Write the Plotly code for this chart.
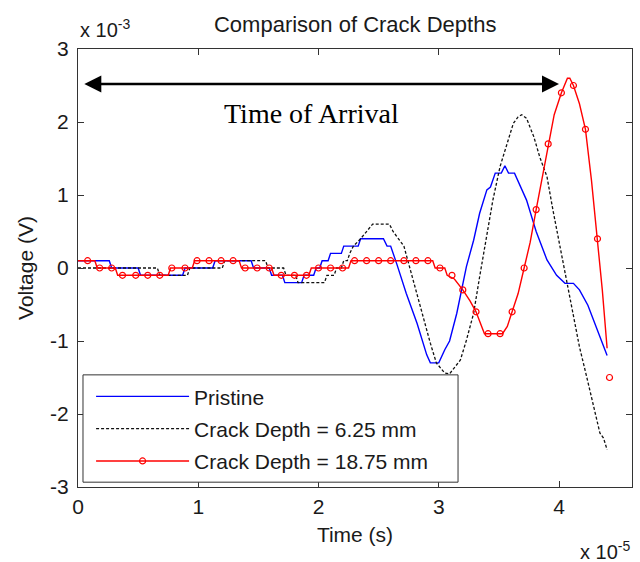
import plotly.graph_objects as go

# Time values in units of 1e-5 s, voltage values in units of 1e-3 V
pristine_t = [0, 0.26, 0.28, 0.50, 0.52, 0.87, 0.89, 1.12, 1.14, 1.44,
              1.46, 1.59, 1.61, 1.70, 1.72, 1.86, 1.88, 1.96, 1.98, 2.01,
              2.03, 2.08, 2.10, 2.19, 2.21, 2.33, 2.35, 2.54, 2.57, 2.60,
              2.65, 2.73, 2.82, 2.90, 2.93, 3.00, 3.05, 3.09, 3.15, 3.23,
              3.29, 3.34, 3.40, 3.43, 3.47, 3.52, 3.55, 3.58, 3.63, 3.68,
              3.73, 3.81, 3.90, 3.98, 4.05, 4.12, 4.17, 4.24, 4.31, 4.40]
pristine_v = [0.1, 0.1, 0, 0, -0.1, -0.1, 0, 0, 0.1, 0.1,
              0, 0, -0.1, -0.1, -0.2, -0.2, -0.1, -0.1, 0, 0,
              0.1, 0.1, 0.2, 0.2, 0.3, 0.3, 0.4, 0.4, 0.3, 0.3,
              0.06, -0.35, -0.76, -1.19, -1.3, -1.3, -1.12, -1.0, -0.62, 0.02,
              0.38, 0.75, 1.07, 1.11, 1.3, 1.3, 1.4, 1.3, 1.3, 1.11,
              0.93, 0.5, 0.11, -0.1, -0.21, -0.21, -0.3, -0.51, -0.8, -1.2]

crack625_t = [0, 0.66, 0.68, 0.91, 0.93, 1.20, 1.22, 1.56, 1.58, 1.71,
              1.73, 1.81, 1.83, 2.05, 2.07, 2.13, 2.15, 2.19, 2.21, 2.24,
              2.26, 2.29, 2.35, 2.40, 2.45, 2.59, 2.62, 2.71, 2.78, 2.86,
              2.93, 2.98, 3.05, 3.09, 3.18, 3.23, 3.29, 3.34, 3.40, 3.45,
              3.51, 3.57, 3.62, 3.66, 3.69, 3.73, 3.79, 3.84, 3.90, 3.95,
              4.01, 4.06, 4.12, 4.17, 4.23, 4.29, 4.34, 4.37, 4.40]
crack625_v = [0, 0, -0.1, -0.1, 0, 0, 0.1, 0.1, 0, 0,
              -0.1, -0.1, -0.2, -0.2, -0.1, -0.1, 0, 0, 0.1, 0.1,
              0.2, 0.3, 0.4, 0.5, 0.6, 0.6, 0.5, 0.3, -0.12, -0.62,
              -1.03, -1.3, -1.44, -1.45, -1.26, -0.99, -0.62, -0.12, 0.43, 0.93,
              1.39, 1.71, 1.98, 2.07, 2.1, 2.05, 1.80, 1.52, 1.25, 0.79,
              0.29, -0.12, -0.62, -1.08, -1.49, -1.9, -2.26, -2.33, -2.49]

crack1875_t = [0, 0.14, 0.16, 0.31, 0.33, 0.75, 0.77, 0.95, 0.97, 1.34,
               1.36, 1.61, 1.63, 1.92, 1.94, 2.25, 2.27, 2.95, 2.97, 3.05,
               3.07, 3.13, 3.20, 3.26, 3.31, 3.38, 3.53, 3.57, 3.61, 3.66,
               3.71, 3.76, 3.81, 3.86, 3.91, 3.96, 4.02, 4.07, 4.09, 4.12,
               4.17, 4.22, 4.27, 4.32, 4.36, 4.40]
crack1875_v = [0.1, 0.1, 0, 0, -0.1, -0.1, 0, 0, 0.1, 0.1,
               0, 0, -0.1, -0.1, 0, 0, 0.1, 0.1, 0, 0,
               -0.1, -0.15, -0.3, -0.45, -0.6, -0.9, -0.9, -0.8, -0.6, -0.35,
               0.0, 0.35, 0.8, 1.25, 1.7, 2.1, 2.4, 2.6, 2.6, 2.5,
               2.25, 1.9, 1.2, 0.4, -0.3, -1.1]

crack1875_marker_t = [0.08, 0.18, 0.28, 0.37, 0.48, 0.58, 0.68, 0.78, 0.89, 0.99,
                      1.09, 1.19, 1.29, 1.39, 1.49, 1.59, 1.69, 1.80, 1.90, 2.00,
                      2.10, 2.20, 2.30, 2.40, 2.50, 2.60, 2.71, 2.81, 2.91, 3.01,
                      3.11, 3.20, 3.31, 3.41, 3.51, 3.61, 3.71, 3.81, 3.91, 4.02,
                      4.12, 4.22, 4.32, 4.42]
crack1875_marker_v = [0.1, 0, 0, -0.1, -0.1, -0.1, -0.1, 0, 0, 0.1,
                      0.1, 0.1, 0.1, 0, 0, 0, -0.1, -0.1, -0.1, 0,
                      0, 0, 0.1, 0.1, 0.1, 0.1, 0.1, 0.1, 0.1, 0,
                      -0.1, -0.3, -0.6, -0.9, -0.9, -0.6, 0.0, 0.8, 1.7, 2.4,
                      2.5, 1.9, 0.4, -1.5]

series_names = ["Pristine", "Crack Depth = 6.25 mm", "Crack Depth = 18.75 mm"]
x_tick_vals = [0, 1, 2, 3, 4]
y_tick_vals = [-3, -2, -1, 0, 1, 2, 3]
y_tick_text = ["-3", "-2", "-1", "0", "1", "2", "3"]
arrow_start, arrow_end, arrow_level = 0.04, 4.0, 2.52
arrival_label = "Time of Arrival"

FONT = "Liberation Sans, Arial, sans-serif"
AX = "#333333"
TXT = "#1a1a1a"

fig = go.Figure()
fig.add_trace(go.Scatter(x=pristine_t, y=pristine_v, mode="lines", name=series_names[0],
                         line=dict(color="#0000ff", width=1.4), legendgroup="a"))
fig.add_trace(go.Scatter(x=crack625_t, y=crack625_v, mode="lines", name=series_names[1],
                         line=dict(color="#111111", width=1.3, dash="3px,2px"), legendgroup="b"))
fig.add_trace(go.Scatter(x=crack1875_t, y=crack1875_v, mode="lines", name=series_names[2],
                         line=dict(color="#ff0000", width=1.4), showlegend=False, legendgroup="c"))
fig.add_trace(go.Scatter(x=crack1875_marker_t, y=crack1875_marker_v, mode="markers", name=series_names[2],
                         marker=dict(symbol="circle-open", size=6, color="#ff0000", line=dict(width=1.2)),
                         showlegend=False, legendgroup="c"))
fig.add_trace(go.Scatter(x=[None], y=[None], mode="lines+markers", name=series_names[2],
                         line=dict(color="#ff0000", width=1.4),
                         marker=dict(symbol="circle-open", size=6, color="#ff0000", line=dict(width=1.2)),
                         legendgroup="c"))

# Legend box
fig.add_shape(type="rect", xref="paper", yref="paper", x0=0.009, x1=0.686, y0=0.011, y1=0.256,
              line=dict(color=AX, width=1), fillcolor="white", layer="above")

# Double-headed arrow and label
fig.add_annotation(x=arrow_end, y=arrow_level, ax=arrow_start, ay=arrow_level,
                   xref="x", yref="y", axref="x", ayref="y", text="",
                   showarrow=True, arrowhead=2, arrowside="end+start",
                   arrowwidth=2.5, arrowsize=1.36, arrowcolor="black", standoff=0, startstandoff=0)
fig.add_annotation(x=1.94, y=2.11, xref="x", yref="y", text=arrival_label, showarrow=False,
                   font=dict(family="Liberation Serif, Times New Roman, serif", size=28, color="black"))

# Axis multipliers
fig.add_annotation(x=0, y=1.0, xref="paper", yref="paper", xanchor="left", yanchor="bottom",
                   yshift=6, text="x 10<sup>-3</sup>", showarrow=False,
                   font=dict(family=FONT, size=20, color=TXT))
fig.add_annotation(x=1.0, y=0, xref="paper", yref="paper", xanchor="right", yanchor="top",
                   yshift=-49, text="x 10<sup>-5</sup>", showarrow=False,
                   font=dict(family=FONT, size=20, color=TXT))

axis_common = dict(showline=True, linecolor=AX, linewidth=1, mirror="ticks", ticks="inside",
                   ticklen=6, tickcolor=AX, showgrid=False, zeroline=False,
                   tickfont=dict(family=FONT, size=21, color=TXT))

fig.update_layout(
    width=640, height=562,
    margin=dict(l=78, r=8, t=49, b=75),
    paper_bgcolor="white", plot_bgcolor="white",
    title=dict(text="Comparison of Crack Depths", x=0.555, xanchor="center",
               y=0.957, yanchor="middle", font=dict(family=FONT, size=22, color=TXT)),
    xaxis=dict(range=[0, 4.607], tickvals=x_tick_vals, ticklabelstandoff=1,
               title=dict(text="Time (s)", font=dict(family=FONT, size=21, color=TXT), standoff=10),
               **axis_common),
    yaxis=dict(range=[-3, 3], tickvals=y_tick_vals, ticktext=y_tick_text, ticklabelstandoff=4,
               title=dict(text="Voltage (V)", font=dict(family=FONT, size=21, color=TXT), standoff=10),
               **axis_common),
    showlegend=True,
    legend=dict(x=0.0236, y=0.253, xanchor="left", yanchor="top", bgcolor="rgba(0,0,0,0)",
                borderwidth=0, font=dict(family=FONT, size=21, color=TXT),
                itemwidth=93, tracegroupgap=2, traceorder="grouped"),
)

fig.write_html("out.html")
